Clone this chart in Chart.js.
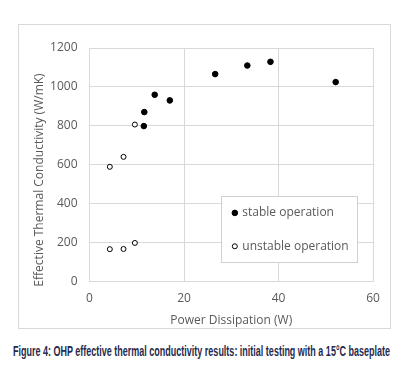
<!DOCTYPE html>
<html>
<head>
<meta charset="utf-8">
<script src="https://cdn.jsdelivr.net/npm/chart.js@4"></script>
<style>
html,body{margin:0;padding:0;background:#fff;}
#wrap{position:relative;width:401px;height:372px;overflow:hidden;}
#box{position:absolute;left:18px;top:24px;width:371px;height:303px;border:1px solid #d9d9d9;}
#caption{position:absolute;left:13px;top:343.3px;font-family:"Liberation Sans",sans-serif;font-weight:bold;font-size:15px;line-height:15px;color:#1f2a4e;white-space:nowrap;transform-origin:0 0;}
</style>
</head>
<body>
<div id="wrap">
<div id="box"><canvas id="c" width="371" height="303"></canvas></div>
<div id="caption">Figure 4: OHP effective thermal conductivity results: initial testing with a 15°C baseplate</div>
</div>
<script>
const seriesNames = ["stable operation", "unstable operation"];
const stableX = [11.5, 11.6, 13.8, 17.0, 26.6, 33.4, 38.3, 52.1];
const stableY = [799, 871, 960, 931, 1066, 1110, 1129, 1025];
const unstableX = [4.3, 7.2, 9.6, 4.3, 7.2, 9.6];
const unstableY = [590, 641, 807, 167, 168, 199];
const xTicks = [0, 20, 40, 60];
const yTicks = [0, 200, 400, 600, 800, 1000, 1200];
const xTitle = "Power Dissipation (W)";
const yTitle = "Effective Thermal Conductivity (W/mK)";

// squeeze the caption into its condensed width
const cap = document.getElementById('caption');
cap.style.transform = 'scaleX(' + (377 / cap.getBoundingClientRect().width) + ')';

const toPts = (xs, ys) => xs.map((x, i) => ({x: x, y: ys[i]}));
const FONT = '"Open Sans", sans-serif';
const TXT = '#595959';

const legendPlugin = {
  id: 'inLegend',
  afterDraw(chart) {
    const ctx = chart.ctx;
    const xs = chart.scales.x, ys = chart.scales.y;
    ctx.save();
    // y axis title (centred a little below the plot centre, as in the original)
    ctx.translate(21, 155);
    ctx.rotate(-Math.PI / 2);
    ctx.font = '12px ' + FONT;
    ctx.fillStyle = TXT;
    ctx.textAlign = 'center';
    ctx.textBaseline = 'middle';
    ctx.fillText(yTitle, 0, 0);
    ctx.restore();

    const left = xs.getPixelForValue(27.9), right = xs.getPixelForValue(56.7);
    const top = ys.getPixelForValue(438), bottom = ys.getPixelForValue(98);
    ctx.save();
    ctx.fillStyle = '#fff';
    ctx.fillRect(left, top, right - left, bottom - top);
    ctx.strokeStyle = '#d0d0d0';
    ctx.lineWidth = 1;
    ctx.strokeRect(Math.round(left) + 0.5, Math.round(top) + 0.5, Math.round(right - left), Math.round(bottom - top));
    ctx.font = '12px ' + FONT;
    ctx.textBaseline = 'middle';
    chart.data.datasets.forEach((ds, i) => {
      const cy = top + 16.5 + i * 33.4;
      const mx = left + 13.5;
      ctx.beginPath();
      ctx.arc(mx, cy, ds.pointRadius, 0, Math.PI * 2);
      ctx.fillStyle = ds.pointBackgroundColor;
      ctx.fill();
      ctx.lineWidth = ds.pointBorderWidth;
      ctx.strokeStyle = ds.pointBorderColor;
      ctx.stroke();
      ctx.fillStyle = TXT;
      ctx.fillText(ds.label, left + 21, cy);
    });
    ctx.restore();
  }
};

new Chart(document.getElementById('c'), {
  type: 'scatter',
  data: {
    datasets: [
      {label: seriesNames[0], data: toPts(stableX, stableY), pointRadius: 2.8, pointBackgroundColor: '#000', pointBorderColor: '#000', pointBorderWidth: 1, pointHoverRadius: 2.8},
      {label: seriesNames[1], data: toPts(unstableX, unstableY), pointRadius: 2.5, pointBackgroundColor: '#fff', pointBorderColor: '#000', pointBorderWidth: 1, pointHoverRadius: 2.5}
    ]
  },
  options: {
    responsive: false,
    animation: false,
    devicePixelRatio: 1,
    layout: {padding: {left: 0, top: 23, right: 17, bottom: 0}},
    plugins: {legend: {display: false}, tooltip: {enabled: false}},
    scales: {
      x: {
        type: 'linear', min: 0, max: 60,
        afterBuildTicks: s => { s.ticks = xTicks.map(v => ({value: v})); },
        grid: {color: '#d9d9d9', drawTicks: false},
        border: {color: '#d9d9d9'},
        ticks: {color: TXT, font: {family: FONT, size: 12}, padding: 10, callback: v => String(v)},
        title: {display: true, text: xTitle, color: TXT, font: {family: FONT, size: 12}, padding: {top: 4, bottom: 0}},
        afterFit: s => { s.height = 46.3; }
      },
      y: {
        type: 'linear', min: 0, max: 1200,
        afterBuildTicks: s => { s.ticks = yTicks.map(v => ({value: v})); },
        grid: {color: '#d9d9d9', drawTicks: false},
        border: {color: '#d9d9d9'},
        ticks: {color: TXT, font: {family: FONT, size: 12}, padding: 12, callback: v => String(v)},
        afterFit: s => { s.width = 70.5; }
      }
    }
  },
  plugins: [legendPlugin]
});
</script>
</body>
</html>
